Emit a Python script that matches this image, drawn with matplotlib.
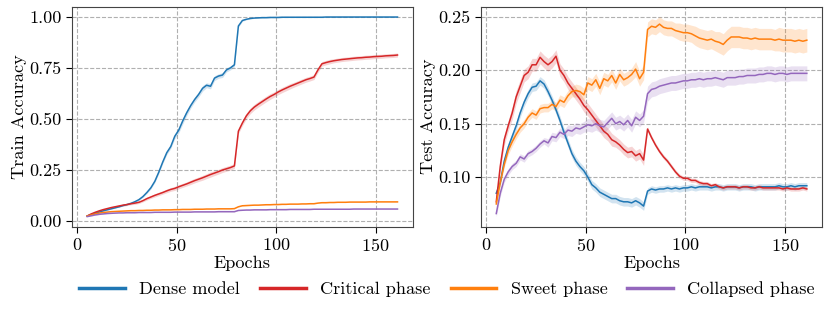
import numpy as np
import matplotlib
matplotlib.use("Agg")
import matplotlib.pyplot as plt

plt.rcParams['font.family'] = 'serif'
plt.rcParams['font.serif'] = ['cmr10']
plt.rcParams['mathtext.fontset'] = 'cm'
plt.rcParams['axes.formatter.use_mathtext'] = True

epochs = list(range(5, 162, 2))

labels = ["Dense model", "Critical phase", "Sweet phase", "Collapsed phase"]
colors = ["#1f77b4", "#d62728", "#ff7f0e", "#9467bd"]

train_dense = [0.025, 0.032, 0.038, 0.044, 0.050, 0.055, 0.060, 0.065, 0.070, 0.076,
               0.081, 0.087, 0.095, 0.105, 0.120, 0.140, 0.163, 0.195, 0.240, 0.290,
               0.335, 0.365, 0.415, 0.445, 0.490, 0.530, 0.565, 0.595, 0.620, 0.650,
               0.665, 0.660, 0.700, 0.710, 0.715, 0.740, 0.750, 0.765, 0.955, 0.982,
               0.988, 0.992, 0.994, 0.995, 0.996, 0.996, 0.997, 0.997, 0.997, 0.998,
               0.998, 0.998, 0.998, 0.998, 0.998, 0.998, 0.998, 0.998, 0.998, 0.998,
               0.999, 0.999, 0.999, 0.999, 0.999, 0.999, 0.999, 0.999, 0.999, 0.999,
               0.999, 0.999, 0.999, 0.999, 0.999, 0.999, 0.999, 0.999, 0.999]
train_critical = [0.025, 0.035, 0.043, 0.050, 0.056, 0.061, 0.066, 0.070, 0.074, 0.078,
                  0.081, 0.085, 0.088, 0.092, 0.100, 0.110, 0.118, 0.126, 0.133, 0.140,
                  0.148, 0.155, 0.160, 0.168, 0.175, 0.182, 0.190, 0.198, 0.205, 0.212,
                  0.220, 0.228, 0.235, 0.242, 0.250, 0.256, 0.262, 0.270, 0.440, 0.480,
                  0.515, 0.540, 0.558, 0.572, 0.585, 0.598, 0.610, 0.620, 0.632, 0.642,
                  0.651, 0.660, 0.668, 0.676, 0.684, 0.692, 0.698, 0.705, 0.740, 0.770,
                  0.776, 0.781, 0.785, 0.788, 0.791, 0.793, 0.795, 0.797, 0.799, 0.800,
                  0.802, 0.803, 0.805, 0.806, 0.807, 0.809, 0.810, 0.811, 0.813]
train_sweet = [0.025, 0.030, 0.035, 0.039, 0.042, 0.044, 0.046, 0.047, 0.048, 0.049,
               0.050, 0.051, 0.051, 0.052, 0.052, 0.053, 0.053, 0.054, 0.054, 0.055,
               0.055, 0.055, 0.056, 0.056, 0.057, 0.057, 0.057, 0.058, 0.058, 0.058,
               0.059, 0.059, 0.059, 0.060, 0.060, 0.060, 0.060, 0.061, 0.070, 0.075,
               0.076, 0.077, 0.078, 0.078, 0.079, 0.080, 0.080, 0.081, 0.081, 0.082,
               0.082, 0.083, 0.083, 0.083, 0.084, 0.084, 0.085, 0.085, 0.088, 0.090,
               0.090, 0.091, 0.091, 0.092, 0.092, 0.092, 0.093, 0.093, 0.093, 0.093,
               0.093, 0.094, 0.094, 0.094, 0.094, 0.094, 0.094, 0.094, 0.094]
train_collapsed = [0.022, 0.026, 0.030, 0.033, 0.035, 0.037, 0.038, 0.039, 0.040, 0.040,
                   0.041, 0.041, 0.041, 0.042, 0.042, 0.042, 0.042, 0.043, 0.043, 0.043,
                   0.043, 0.043, 0.044, 0.044, 0.044, 0.044, 0.044, 0.045, 0.045, 0.045,
                   0.045, 0.045, 0.045, 0.046, 0.046, 0.046, 0.046, 0.046, 0.052, 0.053,
                   0.054, 0.054, 0.055, 0.055, 0.055, 0.055, 0.056, 0.056, 0.056, 0.056,
                   0.056, 0.057, 0.057, 0.057, 0.057, 0.057, 0.057, 0.058, 0.058, 0.058,
                   0.058, 0.058, 0.058, 0.058, 0.058, 0.058, 0.058, 0.059, 0.059, 0.059,
                   0.059, 0.059, 0.059, 0.059, 0.059, 0.059, 0.059, 0.059, 0.059]

train_dense_std = [0.002, 0.002, 0.002, 0.002, 0.002, 0.002, 0.002, 0.002, 0.002, 0.002,
                   0.003, 0.003, 0.003, 0.004, 0.004, 0.005, 0.006, 0.006, 0.007, 0.008,
                   0.009, 0.010, 0.012, 0.014, 0.015, 0.014, 0.013, 0.012, 0.013, 0.014,
                   0.012, 0.013, 0.012, 0.011, 0.012, 0.010, 0.010, 0.010, 0.006, 0.004,
                   0.003, 0.002, 0.002, 0.002, 0.002, 0.002, 0.002, 0.002, 0.002, 0.002,
                   0.002, 0.002, 0.002, 0.002, 0.002, 0.002, 0.002, 0.002, 0.002, 0.002,
                   0.002, 0.002, 0.002, 0.002, 0.002, 0.002, 0.002, 0.002, 0.002, 0.002,
                   0.002, 0.002, 0.002, 0.002, 0.002, 0.002, 0.002, 0.002, 0.002]
train_critical_std = [0.002, 0.003, 0.003, 0.004, 0.004, 0.004, 0.004, 0.005, 0.005, 0.005,
                      0.005, 0.005, 0.006, 0.006, 0.006, 0.007, 0.007, 0.008, 0.008, 0.008,
                      0.009, 0.009, 0.010, 0.010, 0.010, 0.010, 0.011, 0.011, 0.011, 0.012,
                      0.012, 0.013, 0.012, 0.012, 0.012, 0.012, 0.012, 0.012, 0.012, 0.013,
                      0.014, 0.014, 0.014, 0.014, 0.014, 0.014, 0.014, 0.013, 0.013, 0.013,
                      0.013, 0.013, 0.012, 0.012, 0.012, 0.012, 0.012, 0.012, 0.012, 0.011,
                      0.011, 0.011, 0.010, 0.010, 0.010, 0.010, 0.010, 0.010, 0.010, 0.010,
                      0.010, 0.010, 0.010, 0.010, 0.010, 0.010, 0.010, 0.010, 0.010]
train_sweet_std = [0.001] * 79
train_collapsed_std = [0.001] * 79

test_dense = [0.085, 0.095, 0.115, 0.128, 0.138, 0.148, 0.160, 0.170, 0.178, 0.184,
              0.185, 0.190, 0.187, 0.180, 0.172, 0.163, 0.153, 0.142, 0.132, 0.122,
              0.115, 0.110, 0.106, 0.100, 0.093, 0.090, 0.086, 0.084, 0.082, 0.080,
              0.080, 0.078, 0.077, 0.077, 0.076, 0.078, 0.076, 0.073, 0.087, 0.089,
              0.088, 0.089, 0.089, 0.090, 0.089, 0.090, 0.089, 0.090, 0.090, 0.091,
              0.090, 0.091, 0.091, 0.091, 0.090, 0.091, 0.091, 0.090, 0.091, 0.091,
              0.091, 0.090, 0.091, 0.091, 0.091, 0.090, 0.091, 0.091, 0.091, 0.091,
              0.091, 0.092, 0.091, 0.091, 0.092, 0.091, 0.092, 0.092, 0.092]
test_critical = [0.077, 0.110, 0.135, 0.148, 0.160, 0.175, 0.185, 0.195, 0.198, 0.205,
                 0.205, 0.212, 0.208, 0.205, 0.208, 0.213, 0.200, 0.195, 0.188, 0.183,
                 0.178, 0.173, 0.167, 0.163, 0.158, 0.153, 0.148, 0.143, 0.140, 0.135,
                 0.133, 0.130, 0.126, 0.123, 0.124, 0.120, 0.122, 0.116, 0.145, 0.137,
                 0.130, 0.124, 0.119, 0.115, 0.110, 0.105, 0.101, 0.099, 0.099, 0.097,
                 0.097, 0.095, 0.094, 0.094, 0.092, 0.093, 0.091, 0.090, 0.091, 0.091,
                 0.091, 0.090, 0.091, 0.091, 0.090, 0.090, 0.091, 0.090, 0.090, 0.090,
                 0.090, 0.090, 0.089, 0.090, 0.089, 0.089, 0.089, 0.090, 0.089]
test_sweet = [0.075, 0.095, 0.112, 0.125, 0.133, 0.140, 0.146, 0.150, 0.156, 0.160,
              0.158, 0.164, 0.165, 0.165, 0.168, 0.166, 0.172, 0.170, 0.176, 0.180,
              0.181, 0.180, 0.177, 0.188, 0.186, 0.191, 0.183, 0.192, 0.190, 0.195,
              0.188, 0.196, 0.191, 0.193, 0.196, 0.201, 0.192, 0.198, 0.238, 0.241,
              0.240, 0.243, 0.240, 0.239, 0.239, 0.237, 0.236, 0.235, 0.235, 0.234,
              0.232, 0.230, 0.229, 0.228, 0.229, 0.227, 0.226, 0.224, 0.228, 0.231,
              0.231, 0.231, 0.230, 0.230, 0.229, 0.230, 0.229, 0.229, 0.229, 0.229,
              0.228, 0.229, 0.228, 0.228, 0.228, 0.227, 0.228, 0.227, 0.228]
test_collapsed = [0.066, 0.085, 0.098, 0.105, 0.110, 0.113, 0.119, 0.117, 0.122, 0.124,
                  0.127, 0.131, 0.134, 0.132, 0.138, 0.137, 0.142, 0.140, 0.144, 0.143,
                  0.146, 0.145, 0.147, 0.149, 0.148, 0.150, 0.148, 0.147, 0.151, 0.155,
                  0.150, 0.152, 0.149, 0.153, 0.148, 0.156, 0.153, 0.157, 0.178, 0.182,
                  0.183, 0.185, 0.186, 0.187, 0.188, 0.188, 0.189, 0.190, 0.190, 0.191,
                  0.191, 0.192, 0.191, 0.192, 0.192, 0.193, 0.192, 0.191, 0.193, 0.193,
                  0.193, 0.194, 0.194, 0.195, 0.195, 0.195, 0.196, 0.196, 0.197, 0.197,
                  0.196, 0.197, 0.197, 0.196, 0.197, 0.197, 0.197, 0.197, 0.197]

test_dense_std = [0.003, 0.003, 0.004, 0.004, 0.004, 0.004, 0.004, 0.004, 0.004, 0.004,
                  0.004, 0.004, 0.004, 0.004, 0.004, 0.004, 0.004, 0.004, 0.004, 0.004,
                  0.004, 0.004, 0.004, 0.004, 0.004, 0.004, 0.004, 0.004, 0.004, 0.004,
                  0.004, 0.004, 0.004, 0.004, 0.004, 0.004, 0.004, 0.004, 0.003, 0.003,
                  0.003, 0.003, 0.003, 0.003, 0.003, 0.003, 0.003, 0.003, 0.003, 0.003,
                  0.003, 0.003, 0.003, 0.003, 0.003, 0.003, 0.003, 0.003, 0.003, 0.003,
                  0.003, 0.003, 0.003, 0.003, 0.003, 0.003, 0.003, 0.003, 0.003, 0.003,
                  0.003, 0.003, 0.003, 0.003, 0.003, 0.003, 0.003, 0.003, 0.003]
test_critical_std = [0.003, 0.004, 0.005, 0.005, 0.006, 0.006, 0.006, 0.006, 0.006, 0.006,
                     0.006, 0.006, 0.006, 0.006, 0.006, 0.006, 0.006, 0.006, 0.006, 0.006,
                     0.006, 0.006, 0.006, 0.006, 0.006, 0.006, 0.006, 0.006, 0.006, 0.006,
                     0.005, 0.005, 0.005, 0.005, 0.005, 0.005, 0.005, 0.005, 0.002, 0.002,
                     0.002, 0.002, 0.002, 0.002, 0.002, 0.002, 0.002, 0.002, 0.002, 0.002,
                     0.002, 0.002, 0.002, 0.002, 0.002, 0.002, 0.002, 0.002, 0.002, 0.002,
                     0.002, 0.002, 0.002, 0.002, 0.002, 0.002, 0.002, 0.002, 0.002, 0.002,
                     0.002, 0.002, 0.002, 0.002, 0.002, 0.002, 0.002, 0.002, 0.002]
test_sweet_std = [0.003, 0.003, 0.003, 0.004, 0.004, 0.004, 0.004, 0.004, 0.004, 0.004,
                  0.004, 0.004, 0.004, 0.004, 0.004, 0.004, 0.005, 0.005, 0.005, 0.005,
                  0.006, 0.006, 0.006, 0.006, 0.006, 0.006, 0.006, 0.006, 0.006, 0.006,
                  0.006, 0.006, 0.006, 0.006, 0.006, 0.007, 0.007, 0.007, 0.007, 0.007,
                  0.007, 0.007, 0.007, 0.007, 0.007, 0.007, 0.008, 0.008, 0.008, 0.008,
                  0.009, 0.009, 0.009, 0.009, 0.009, 0.009, 0.010, 0.010, 0.010, 0.010,
                  0.010, 0.010, 0.010, 0.010, 0.010, 0.010, 0.010, 0.010, 0.010, 0.010,
                  0.010, 0.011, 0.011, 0.011, 0.011, 0.011, 0.011, 0.011, 0.011]
test_collapsed_std = [0.003, 0.003, 0.003, 0.003, 0.003, 0.003, 0.003, 0.003, 0.003, 0.003,
                      0.003, 0.003, 0.003, 0.004, 0.004, 0.004, 0.004, 0.004, 0.005, 0.005,
                      0.005, 0.005, 0.005, 0.006, 0.006, 0.006, 0.006, 0.006, 0.006, 0.006,
                      0.006, 0.006, 0.006, 0.006, 0.006, 0.006, 0.006, 0.006, 0.007, 0.007,
                      0.007, 0.007, 0.007, 0.007, 0.007, 0.007, 0.007, 0.007, 0.007, 0.007,
                      0.007, 0.007, 0.007, 0.007, 0.007, 0.007, 0.007, 0.007, 0.007, 0.007,
                      0.007, 0.007, 0.007, 0.007, 0.007, 0.007, 0.007, 0.007, 0.007, 0.007,
                      0.007, 0.007, 0.007, 0.007, 0.007, 0.007, 0.007, 0.007, 0.007]

FS = 13.1

fig = plt.figure(figsize=(8.31, 3.15), dpi=100)
ax1 = fig.add_axes([0.0863, 0.280, 0.4107, 0.699])
ax2 = fig.add_axes([0.5785, 0.280, 0.4111, 0.699])

train = [train_dense, train_critical, train_sweet, train_collapsed]
train_std = [train_dense_std, train_critical_std, train_sweet_std, train_collapsed_std]
test = [test_dense, test_critical, test_sweet, test_collapsed]
test_std = [test_dense_std, test_critical_std, test_sweet_std, test_collapsed_std]

x = np.array(epochs)
handles = []
for ax, means, stds in [(ax1, train, train_std), (ax2, test, test_std)]:
    for m, s, c, lab in zip(means, stds, colors, labels):
        m = np.array(m); s = np.array(s)
        ax.fill_between(x, m - s, m + s, color=c, alpha=0.2, linewidth=0)
        ln, = ax.plot(x, m, color=c, linewidth=1.1, label=lab)
        if ax is ax1:
            handles.append(ln)
    ax.grid(True, linestyle='--', color='#b0b0b0', linewidth=0.8)
    ax.set_axisbelow(True)
    ax.set_xlabel("Epochs", fontsize=FS, labelpad=1)
    ax.tick_params(labelsize=FS, length=4, width=0.8)
    ax.set_xticks([0, 50, 100, 150])
    for sp in ax.spines.values():
        sp.set_color('#444444')

ax1.set_ylabel("Train Accuracy", fontsize=FS, labelpad=1.5)
ax2.set_ylabel("Test Accuracy", fontsize=FS, labelpad=1.5)
ax1.set_yticks([0.0, 0.25, 0.5, 0.75, 1.0])
ax1.set_yticklabels(["0.00", "0.25", "0.50", "0.75", "1.00"])
ax2.set_yticks([0.10, 0.15, 0.20, 0.25])
ax2.set_yticklabels(["0.10", "0.15", "0.20", "0.25"])

leg = fig.legend(handles=handles, labels=labels, loc='center', ncol=4,
                 bbox_to_anchor=(0.538, 0.0825), frameon=False, fontsize=FS,
                 handlelength=2.5, handletextpad=0.8, columnspacing=1.1)
for h in leg.legend_handles:
    h.set_linewidth(2.5)

fig.savefig("out.png", dpi=100)
